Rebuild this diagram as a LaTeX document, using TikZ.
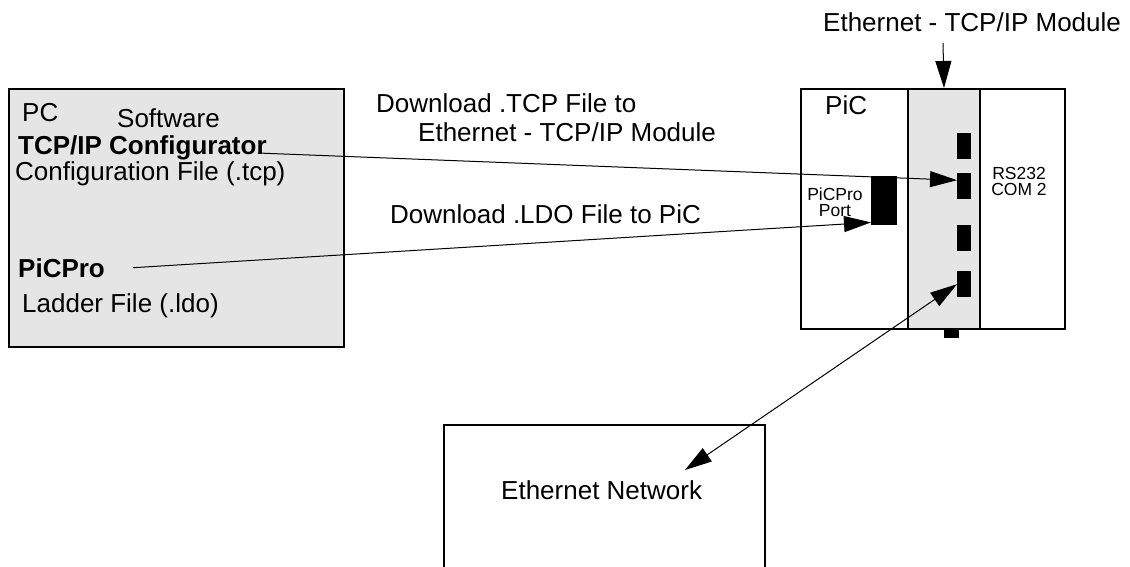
\documentclass[tikz,border=0pt]{standalone}
\usepackage{fontspec}
\setmainfont{Liberation Sans}
\usetikzlibrary{arrows.meta}
\tikzset{bigtip/.tip={Triangle[length=27pt, width=16pt]}}
\begin{document}
\begin{tikzpicture}[
  x=1pt, y=-1pt,
  box/.style={draw, line width=2pt, inner sep=0pt, anchor=north west},
  port/.style={fill=black, inner sep=0pt, anchor=north west},
  txt/.style={inner sep=0pt, anchor=base west, font=\fontsize{26}{30}\selectfont},
  boldtxt/.style={txt, font=\fontsize{26}{30}\selectfont\bfseries},
  small/.style={inner sep=0pt, align=center, font=\fontsize{17.5}{16}\selectfont},
  link/.style={line width=1pt, -bigtip}
]
\clip (0,0) rectangle (1130,567);

% PC with its software
\node[box, fill=black!10, minimum width=335, minimum height=258] (pc) at (8,88) {};
\node[txt] (pclbl) at (22,122) {PC};
\node[txt] (soft) at (117,128) {Software};
\node[boldtxt] (tcpcfg) at (18,155) {TCP/IP Configurator};
\node[txt] (cfgfile) at (15,180) {Configuration File (.tcp)};
\node[boldtxt] (picpro) at (18,277) {PiCPro};
\node[txt] (ldfile) at (22,312) {Ladder File (.ldo)};

% PiC rack with the module strip
\node[box, minimum width=264, minimum height=240] (pic) at (800,88) {};
\node[box, fill=black!10, minimum width=72, minimum height=240] (strip) at (907,88) {};
\node[txt] (piclbl) at (825,115) {PiC};
\node[port, minimum width=26, minimum height=49] (ppport) at (871,176) {};
\node[small] (pplbl) at (835,202) {PiCPro\\Port};
\foreach \i/\y in {1/133,2/173,3/225,4/271}
  \node[port, minimum width=14, minimum height=26] (m\i) at (957,\y) {};
\node[port, minimum width=15, minimum height=10] (m5) at (944,328) {};
\node[small] (rslbl) at (1019,181) {RS232\\COM 2};

% Ethernet network
\node[box, minimum width=321, minimum height=200] (net) at (443,424) {};
\node[txt] (netlbl) at (501,499) {Ethernet Network};

% labels
\node[txt] (modlbl) at (823,32) {Ethernet - TCP/IP Module};
\node[txt] (dl1) at (376,113) {Download .TCP File to};
\node[txt] (dl2) at (418,142) {Ethernet - TCP/IP Module};
\node[txt] (dl3) at (390,223) {Download .LDO File to PiC};

% connectors
\coordinate (modtop) at (943,43);
\coordinate (nettip) at (685,470);
\draw[link] (modtop) -- (strip.north);
\draw[link] ([xshift=-9pt,yshift=2pt]tcpcfg.base east) -- ([yshift=6pt]m2.west);
\draw[link] ([xshift=28pt]picpro.east) -- ([yshift=3pt]ppport.south west);
\draw[link, bigtip-bigtip] (nettip) -- (m4.west);
\end{tikzpicture}
\end{document}
